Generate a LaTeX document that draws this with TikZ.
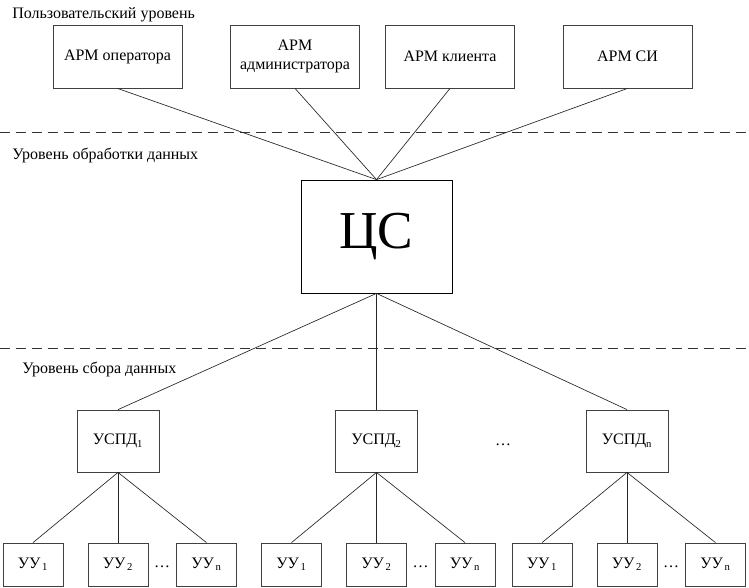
\documentclass[tikz,border=0pt]{standalone}
\usepackage{fontspec}
\setmainfont{Liberation Serif}
\newfontfamily\timesfont{Liberation Serif}
\usetikzlibrary{positioning}

\begin{document}
\begin{tikzpicture}[x=0.75pt,y=-0.75pt,font=\timesfont\fontsize{12}{14}\selectfont,align=center]
    \tikzstyle{arm} = [draw=black!75,line width=0.6pt,rectangle,minimum width=96.75pt,minimum height=47.25pt,inner sep=1pt]
    \tikzstyle{server} = [draw,line width=0.6pt,rectangle,minimum width=113.25pt,minimum height=84.75pt,font=\timesfont\fontsize{40}{44}\selectfont]
    \tikzstyle{uspd} = [draw=black!75,line width=0.6pt,rectangle,minimum width=61.5pt,minimum height=46.5pt,inner sep=1pt]
    \tikzstyle{uu} = [draw=black!75,line width=0.6pt,rectangle,minimum width=45pt,minimum height=32.25pt,inner sep=1pt]
    \tikzstyle{level} = [anchor=west,inner sep=0pt]
    \tikzstyle{border} = [dashed,dash pattern=on 7.5pt off 4.5pt,black!80,line width=0.6pt]
    \tikzstyle{link} = [black!85,line width=0.5pt]
      \useasboundingbox (0,0) rectangle (749,587);
      % levels
      \node[level] (userlevel) at (12,15) {Пользовательский уровень};
      \node[level] (proclevel) at (12,155) {Уровень обработки данных};
      \node[level] (collevel) at (22,369) {Уровень сбора данных};
      \coordinate (b1w) at (0,132);
      \coordinate (b1e) at (749,132);
      \coordinate (b2w) at (0,348);
      \coordinate (b2e) at (749,348);
      \draw[border] (b1w) -- (b1e);
      \draw[border] (b2w) -- (b2e);
      % workstations
      \node[arm] (operator) at (117.5,56.5) {АРМ оператора};
      \node[arm] (admin) at (295,56.5) {АРМ\\администратора};
      \node[arm] (client) at (450,56.5) {АРМ клиента};
      \node[arm] (si) at (627.5,56.5) {АРМ СИ};
      \node[server] (cs) at (376.5,236.5) {ЦС};
      \foreach \t in {operator,admin,client,si} \draw[link] (\t.south) -- (cs.north);
      % data collection
      \node (uspddots) at (503,445) {\ldots};
      \foreach \g/\x/\s in {a/118/1,b/376.5/2,c/627/n} {
        \node[uspd] (uspd\g) at (\x,441) {УСПД\textsubscript{\s}};
        \node[uu] (uu\g1) at (\x-85,564.5) {УУ\textsubscript{\,1}};
        \node[uu] (uu\g2) at (\x,564.5) {УУ\textsubscript{\,2}};
        \node[uu] (uu\g n) at (\x+88.5,564.5) {УУ\textsubscript{\,n}};
        \node (uudots\g) at (\x+44,567) {\ldots};
        \draw[link] (cs.south) -- (uspd\g.north);
        \foreach \u in {1,2,n} \draw[link] (uspd\g.south) -- (uu\g\u.north);
      }
  \end{tikzpicture}
\end{document}
